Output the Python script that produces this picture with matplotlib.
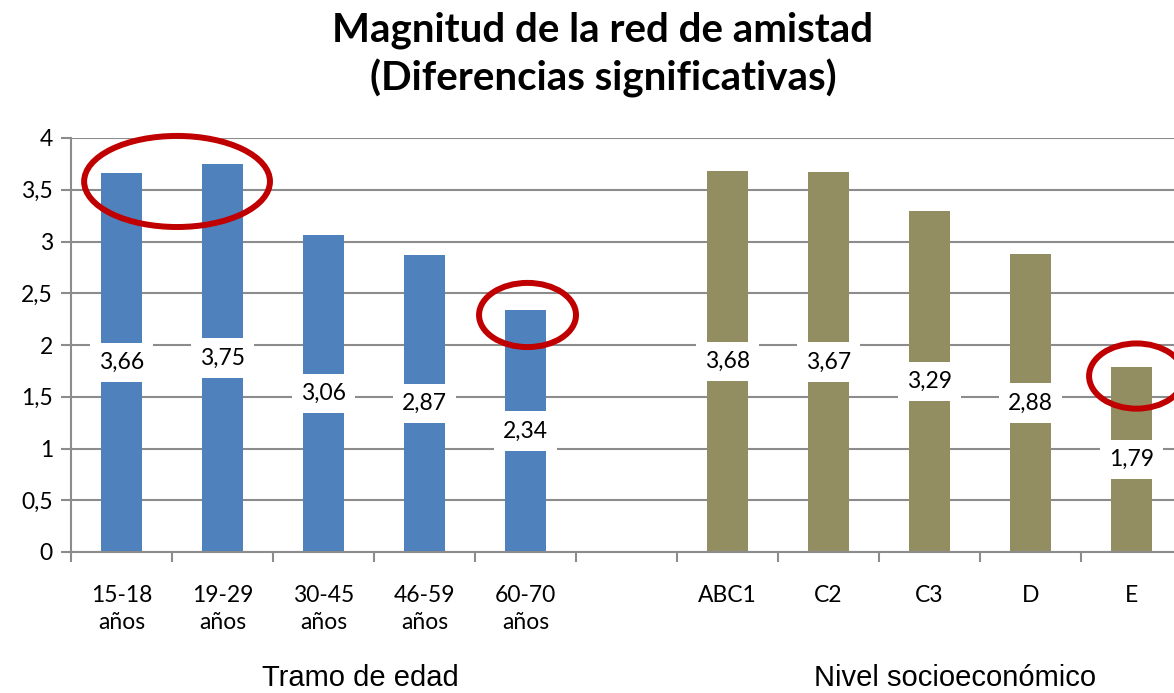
import matplotlib
matplotlib.use("Agg")
import matplotlib.pyplot as plt
from matplotlib.patches import Ellipse

# ---- data ----
age_labels = ["15-18\naños", "19-29\naños", "30-45\naños", "46-59\naños", "60-70\naños"]
age_values = [3.66, 3.75, 3.06, 2.87, 2.34]
nse_labels = ["ABC1", "C2", "C3", "D", "E"]
nse_values = [3.68, 3.67, 3.29, 2.88, 1.79]
group_titles = ["Tramo de edad", "Nivel socioeconómico"]
title = "Magnitud de la red de amistad\n(Diferencias significativas)"
yticks = [0, 0.5, 1, 1.5, 2, 2.5, 3, 3.5, 4]
ytick_labels = ["0", "0,5", "1", "1,5", "2", "2,5", "3", "3,5", "4"]

BLUE = "#4F81BD"
OLIVE = "#938E62"
RED = "#C00000"
GRID = "#8C8C8C"
FONT = "Lato"
FS = 16.5

fig = plt.figure(figsize=(11.74, 6.93), dpi=100)
W, H = 1174, 693
left_px, right_px = 71, 1182
top_px, bot_px = 138, 552
ax = fig.add_axes([left_px / W, 1 - bot_px / H, (right_px - left_px) / W, (bot_px - top_px) / H])

age_pos = list(range(len(age_values)))
nse_pos = [len(age_values) + 1 + i for i in range(len(nse_values))]
n_slots = len(age_values) + 1 + len(nse_values)

ax.bar(age_pos, age_values, width=0.4, color=BLUE, zorder=2)
ax.bar(nse_pos, nse_values, width=0.4, color=OLIVE, zorder=2)

ax.set_xlim(-0.5, n_slots - 0.5)
ax.set_ylim(0, 4)

ax.set_yticks(yticks)
ax.set_yticklabels(ytick_labels, fontfamily=FONT, fontsize=FS)
ax.yaxis.grid(True, color=GRID, linewidth=1.5, zorder=0)
ax.set_axisbelow(True)

ax.set_xticks(age_pos + nse_pos)
ax.set_xticklabels(age_labels + nse_labels, fontfamily=FONT, fontsize=FS, linespacing=1.35,
                   va="top")
ax.tick_params(axis="x", which="major", length=0, pad=24)
ax.set_xticks([i + 0.5 for i in range(-1, n_slots)], minor=True)
ax.tick_params(axis="x", which="minor", length=7, width=1.5, color=GRID)
ax.tick_params(axis="y", length=7, width=1.5, color=GRID, pad=6)

for s in ["top", "right"]:
    ax.spines[s].set_visible(False)
for s in ["left", "bottom"]:
    ax.spines[s].set_color(GRID)
    ax.spines[s].set_linewidth(1.5)

# value labels in white boxes at middle of bars
for pos, v in zip(age_pos + nse_pos, age_values + nse_values):
    ax.text(pos, v / 2, f"{v:.2f}".replace(".", ","), ha="center", va="center",
            fontfamily=FONT, fontsize=FS, zorder=4,
            bbox=dict(facecolor="white", edgecolor="none", boxstyle="square,pad=0.4"))

# red highlight ellipses around selected bars (index list, width, height, dx, dy)
all_pos = age_pos + nse_pos
all_vals = age_values + nse_values
highlights = [([0, 1], 1.84, 0.88, 0.05, -0.17),
              ([4], 0.96, 0.62, 0.02, -0.05),
              ([9], 0.94, 0.63, 0.05, -0.09)]
for idxs, w, h, dx, dy in highlights:
    xs = [all_pos[i] for i in idxs]
    ys = [all_vals[i] for i in idxs]
    cx = sum(xs) / len(xs) + dx
    cy = max(ys) + dy
    e = Ellipse((cx, cy), w, h, fill=False, edgecolor=RED, linewidth=4.3, zorder=5, clip_on=False)
    ax.add_patch(e)

fig.text(360 / W, 1 - 692 / H, group_titles[0], ha="center", va="bottom",
         fontfamily="Liberation Sans", fontsize=21)
fig.text(955 / W, 1 - 692 / H, group_titles[1], ha="center", va="bottom",
         fontfamily="Liberation Sans", fontsize=21)

fig.text(603 / W, 1 - 55 / H, title, ha="center", va="center", fontfamily=FONT,
         fontweight="bold", fontsize=29, linespacing=1.3)

fig.savefig("out.png", dpi=100)
